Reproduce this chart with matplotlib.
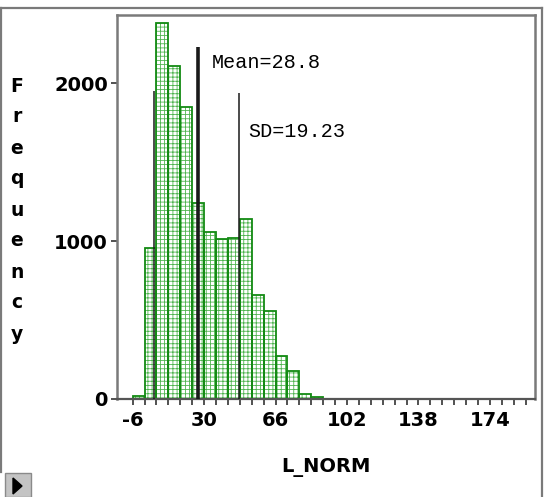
import matplotlib.pyplot as plt
from matplotlib.patches import Rectangle, Polygon
from matplotlib.lines import Line2D

# Дані гістограми
bin_left = [-6, 0, 6, 12, 18, 24, 30, 36, 42, 48, 54, 60, 66, 72, 78, 84]
counts = [20, 960, 2380, 2110, 1850, 1245, 1060, 1015, 1020, 1140, 660, 555, 275, 175, 32, 14]
bin_width = 6

# Вертикальні лінії: mean-SD, mean, mean+SD (положення як на картинці)
line_x = [4.9, 26.9, 47.4]
line_top = [1953, 2232, 1940]
line_w = [1.1, 2.6, 1.1]

x_ticks = list(range(-6, 193, 6))
x_labels = ['-6', '30', '66', '102', '138', '174']
y_ticks = [0, 1000, 2000]

green = '#138a13'
light_green = '#4fb44f'
frame_gray = '#7a7a7a'
plt.rcParams['hatch.linewidth'] = 0.6
plt.rcParams['hatch.color'] = light_green

fig = plt.figure(figsize=(5.49, 4.97), dpi=100)
ax = fig.add_axes([117 / 549, 1 - 399 / 497, 418 / 549, 384.5 / 497])

# заливка точками, потім контур стовпчиків
ax.bar(bin_left, counts, width=bin_width, align='edge', facecolor='white',
       edgecolor=light_green, linewidth=0, hatch='++++', zorder=2)
ax.bar(bin_left, counts, width=bin_width, align='edge', fill=False,
       edgecolor=green, linewidth=1.3, zorder=2)

for x, top, w in zip(line_x, line_top, line_w):
    ax.vlines(x, 0, top, color='#1a1a1a', linewidth=w, zorder=3)

ax.text(34.0, 2135, 'Mean=28.8', family='Liberation Mono', fontsize=14.5,
        va='center', ha='left')
ax.text(52.2, 1693, 'SD=19.23', family='Liberation Mono', fontsize=14.5,
        va='center', ha='left')

ax.set_xlim(-13.9, 196.7)
ax.set_ylim(0, 2437)

ax.set_xticks(x_ticks)
ax.set_xticklabels([str(t) if str(t) in x_labels else '' for t in x_ticks])
ax.set_yticks(y_ticks)
ax.set_yticklabels([str(t) for t in y_ticks])
ax.tick_params(axis='both', direction='out', length=4.5, width=1.2,
               color='#333333', labelsize=14)
ax.tick_params(axis='x', pad=4)
ax.tick_params(axis='y', pad=2)
for lab in ax.get_xticklabels() + ax.get_yticklabels():
    lab.set_fontweight('bold')

for side in ['top', 'right', 'left']:
    ax.spines[side].set_color(frame_gray)
    ax.spines[side].set_linewidth(1.8)
ax.spines['bottom'].set_color('#555555')
ax.spines['bottom'].set_linewidth(1.6)

ax.set_xlabel('L_NORM', fontsize=14, fontweight='bold', labelpad=20)

# Підпис осі Y — літери одна під одною
for i, ch in enumerate('Frequency'):
    fig.text(17 / 549, 1 - (86 + i * 31) / 497, ch, fontsize=13.5,
             fontweight='bold', ha='center', va='center')

# Рамка вікна
fig.add_artist(Line2D([1 / 549, 542 / 549], [1 - 8 / 497, 1 - 8 / 497],
                      color=frame_gray, linewidth=1.6))
fig.add_artist(Line2D([1 / 549, 1 / 549], [1 - 8 / 497, 1 - 472 / 497],
                      color=frame_gray, linewidth=1.6))
fig.add_artist(Line2D([542 / 549, 542 / 549], [1 - 8 / 497, 0],
                      color=frame_gray, linewidth=1.6))

# Кнопка-трикутник у лівому нижньому куті
fig.add_artist(Rectangle((5 / 549, 0), 26 / 549, 24 / 497,
                         facecolor='#c4c4c4', edgecolor='#8a8a8a', linewidth=1))
fig.add_artist(Polygon([[13 / 549, 1 - 478 / 497], [13 / 549, 1 - 494 / 497],
                        [22 / 549, 1 - 486 / 497]], closed=True,
                       facecolor='black', edgecolor='black'))

fig.savefig('out.png', dpi=100)
